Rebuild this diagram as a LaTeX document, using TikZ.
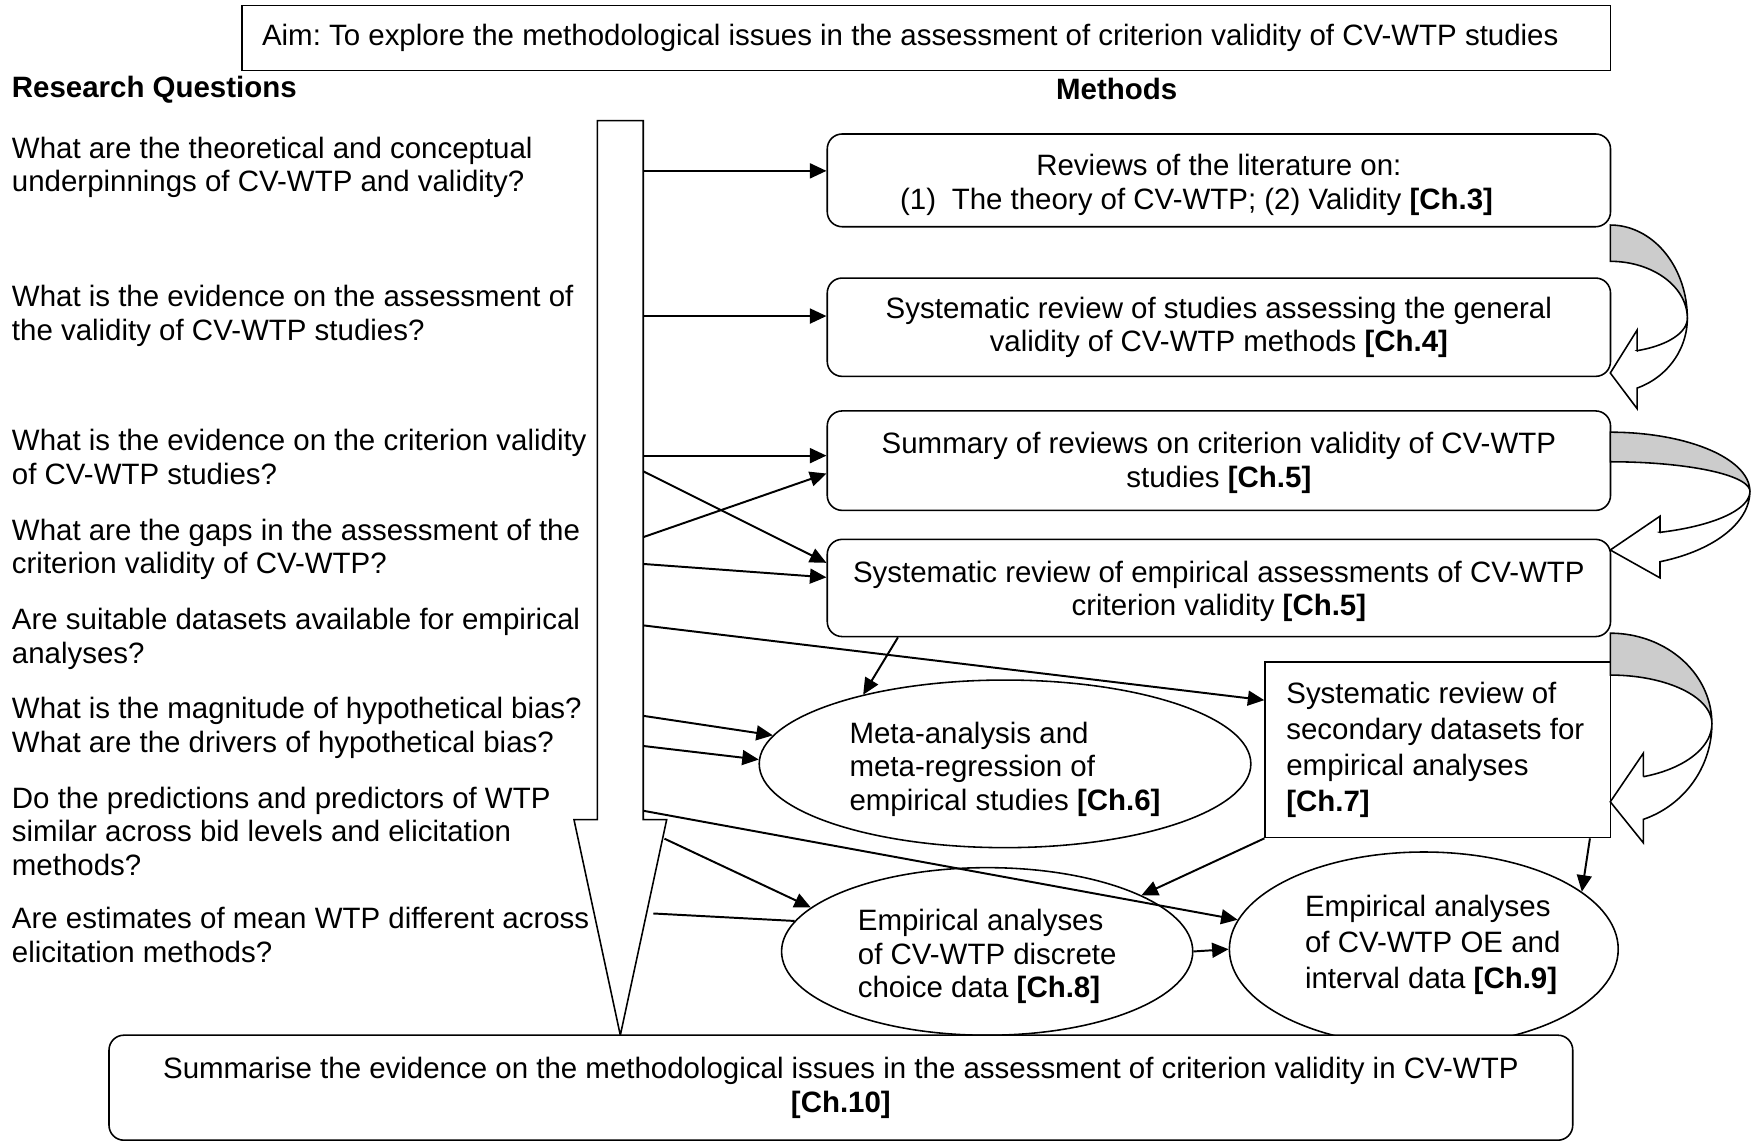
\documentclass[tikz,border=0pt]{standalone}
\usepackage{fontspec}
\setmainfont{Liberation Sans}
\usetikzlibrary{arrows.meta,shapes.geometric,calc}
\frenchspacing

\newcommand\txt{\fontsize{7.5}{8.55}\selectfont}
\newcommand\txtw{\fontsize{7.5}{9.25}\selectfont}
% struts that nudge a multi-line block down (taller first line) or up (deeper last line)
\newcommand\topstrut[1]{\rule{0pt}{#1}}
\newcommand\botstrut[1]{\rule[-#1]{0pt}{0pt}}
\colorlet{backgray}{black!20}

% Curved U-turn block arrow: shaded back band on top, white front band with head below.
% #1 left x, #2 top y, #3 back band thickness, #4 right x, #5 y of right extreme,
% #6 x of head base, #7 inner y at head base, #8 outer y at head base, #9 tip y
\newcommand\drawuturn[9]{%
  \pgfmathsetmacro\urx{#4-#1}%
  \pgfmathsetmacro\uto{acos((#6-#1)/\urx)}%
  \pgfmathsetmacro\uryo{(#8-#5)/sin(\uto)}%
  \pgfmathsetmacro\uryi{(#7-#5)/sin(\uto)}%
  \pgfmathsetmacro\urgo{#5-#2}%
  \pgfmathsetmacro\urgi{#5-#2-#3}%
  \pgfmathsetmacro\uw{0.55*(#8-#7)}%
  \filldraw[fill=backgray,line width=0.4pt]
    plot[domain=-90:0,samples=40,variable=\t] ({#1+\urx*cos(\t)},{#5+\urgo*sin(\t)})
    -- plot[domain=0:-90,samples=40,variable=\t] ({#1+\urx*cos(\t)},{#5+\urgi*sin(\t)})
    -- cycle;
  \filldraw[fill=white,line width=0.4pt,line join=miter]
    plot[domain=0:\uto,samples=40,variable=\t] ({#1+\urx*cos(\t)},{#5+\uryo*sin(\t)})
    -- (#6,{#8+\uw}) -- (#1,#9) -- (#6,{#7-\uw}) -- (#6,#7)
    -- plot[domain=\uto:0,samples=40,variable=\t] ({#1+\urx*cos(\t)},{#5+\uryi*sin(\t)})
    -- cycle;
}

\begin{document}
\begin{tikzpicture}[x=0.01cm,y=-0.01cm,
  every node/.style={font=\txt},
  conn/.style={line width=0.5pt,-{Triangle[length=4.2pt,width=3.8pt]}},
  plainline/.style={line width=0.5pt},
  methodbox/.style={draw,line width=0.4pt,rounded corners=3.8pt,minimum width=7.01cm,align=center,inner sep=0pt},
  oval/.style={draw,ellipse,line width=0.4pt,inner sep=0pt,align=flush left},
  question/.style={anchor=north west,inner sep=0pt,align=flush left},
  heading/.style={inner sep=0pt,font=\txt\bfseries}]

\fill[white] (0,0) rectangle (1568,1023);
\useasboundingbox (0,0) rectangle (1568,1023);

% aim and column headings
\node[draw,line width=0.4pt,minimum width=12.25cm,minimum height=0.58cm,
      text width=11.89cm,inner xsep=0.18cm,inner ysep=0pt,align=flush left] (aim) at (829.5,34)
  {Aim: To explore the methodological issues in the assessment of criterion validity of CV-WTP studies};
\node[heading,anchor=west] (rqhead) at (10,80) {Research Questions};
\node[heading] (mhead) at (1000,80) {Methods};

% research questions
\node[question] (q1) at (10,122) {What are the theoretical and conceptual\\underpinnings of CV-WTP and validity?};
\node[question] (q2) at (10,255) {What is the evidence on the assessment of\\the validity of CV-WTP studies?};
\node[question] (q3) at (10,384) {What is the evidence on the criterion validity\\of CV-WTP studies?};
\node[question] (q4) at (10,464) {What are the gaps in the assessment of the\\criterion validity of CV-WTP?};
\node[question] (q5) at (10,544) {Are suitable datasets available for empirical\\analyses?};
\node[question] (q6) at (10,624) {What is the magnitude of hypothetical bias?\\What are the drivers of hypothetical bias?};
\node[question] (q7) at (10,704) {Do the predictions and predictors of WTP\\similar across bid levels and elicitation\\methods?};
\node[question] (q8) at (10,812) {Are estimates of mean WTP different across\\elicitation methods?};

% big downward arrow
\draw[line width=0.4pt,line join=miter] (535,108) -- (576,108) -- (576,734) -- (597,734)
  -- (555.5,927) -- (514,734) -- (535,734) -- cycle;
\coordinate (s1) at (576,153);
\coordinate (s2) at (576,283);
\coordinate (s3) at (576,408);
\coordinate (s4) at (576,422);
\coordinate (s5) at (576,481);
\coordinate (s6) at (576,505);
\coordinate (s7) at (576,560);
\coordinate (s8) at (576,641);
\coordinate (s9) at (576,668);
\coordinate (s12) at (576,726);
\coordinate (s10) at (595,751);
\coordinate (s11) at (585,818);

% methods
\node[methodbox,minimum height=0.83cm] (b1) at (1091.5,161.5)
  {\topstrut{0.27cm}Reviews of the literature on:\\(1)\hspace{0.14cm}The theory of CV-WTP; (2) Validity \textbf{[Ch.3]}\kern0.4cm};
\node[methodbox,minimum height=0.88cm] (b2) at (1091.5,293)
  {Systematic review of studies assessing the general\\validity of CV-WTP methods \textbf{[Ch.4]}};
\node[methodbox,minimum height=0.89cm] (b3) at (1091.5,412.5)
  {\topstrut{0.23cm}Summary of reviews on criterion validity of CV-WTP\\studies \textbf{[Ch.5]}};
\node[methodbox,minimum height=0.87cm] (b4) at (1091.5,526.5)
  {\topstrut{0.25cm}Systematic review of empirical assessments of CV-WTP\\criterion validity \textbf{[Ch.5]}};
\node[draw,line width=0.4pt,minimum width=3.09cm,minimum height=1.57cm,text width=2.71cm,
      inner xsep=0.19cm,inner ysep=0pt,align=flush left,font=\txtw] (ch7) at (1287.5,671.5)
  {Systematic review of\\secondary datasets for\\empirical analyses\\\textbf{[Ch.7]}};
\node[oval,minimum width=4.4cm,minimum height=1.5cm] (ch6) at (900,684)
  {\topstrut{0.29cm}Meta-analysis and\\meta-regression of\\empirical studies \textbf{[Ch.6]}};
\node[oval,minimum width=3.68cm,minimum height=1.5cm] (ch8) at (884,852)
  {\topstrut{0.28cm}Empirical analyses\\of CV-WTP discrete\\choice data \textbf{[Ch.8]}};
\node[oval,font=\txtw,minimum width=3.48cm,minimum height=1.74cm] (ch9) at (1275,850)
  {\kern0.16cm Empirical analyses\\\kern0.16cm of CV-WTP OE and\\\kern0.16cm interval data \textbf{[Ch.9]}\botstrut{0.13cm}};
\node[methodbox,fill=white,minimum width=13.10cm,minimum height=0.94cm] (summary) at (753,974)
  {Summarise the evidence on the methodological issues in the assessment of criterion validity in CV-WTP\\\textbf{[Ch.10]}};

% connectors from the questions
\draw[conn] (s1) -- (s1 -| b1.west);
\draw[conn] (s2) -- (s2 -| b2.west);
\draw[conn] (s3) -- (s3 -| b3.west);
\draw[conn] (s4) -- ([yshift=0.225cm]b4.west);
\draw[conn] (s5) -- ([yshift=-0.115cm]b3.west);
\draw[conn] (s6) -- ([yshift=0.095cm]b4.west);
\draw[conn] (s7) -- ([yshift=0.445cm]ch7.west);
\draw[conn] (s8) -- (ch6.173);
\draw[conn] (s9) -- (ch6.179);
\draw[conn] (s12) -- (ch9.171);
\draw[conn] (s10) -- (ch8.166);
\draw[plainline] (s11) -- (ch8.171);

% connectors between methods
\draw[conn] ([xshift=0.64cm]b4.south west) -- (ch6.154);
\draw[conn] (ch7.south west) -- (ch8.20);
\draw[conn] ([xshift=-0.19cm]ch7.south east) -- (ch9.20);
\draw[conn] (ch8.east) -- (ch9.west);

% curved arrows linking the method stages
\drawuturn{1442}{201.5}{32.5}{1511}{285}{1466}{314}{347.5}{334}
\drawuturn{1442}{387}{26.5}{1567}{440}{1486.5}{476.7}{503}{492.5}
\drawuturn{1442}{567}{37.5}{1533}{648}{1471.6}{695.5}{733.7}{718}

\end{tikzpicture}
\end{document}
